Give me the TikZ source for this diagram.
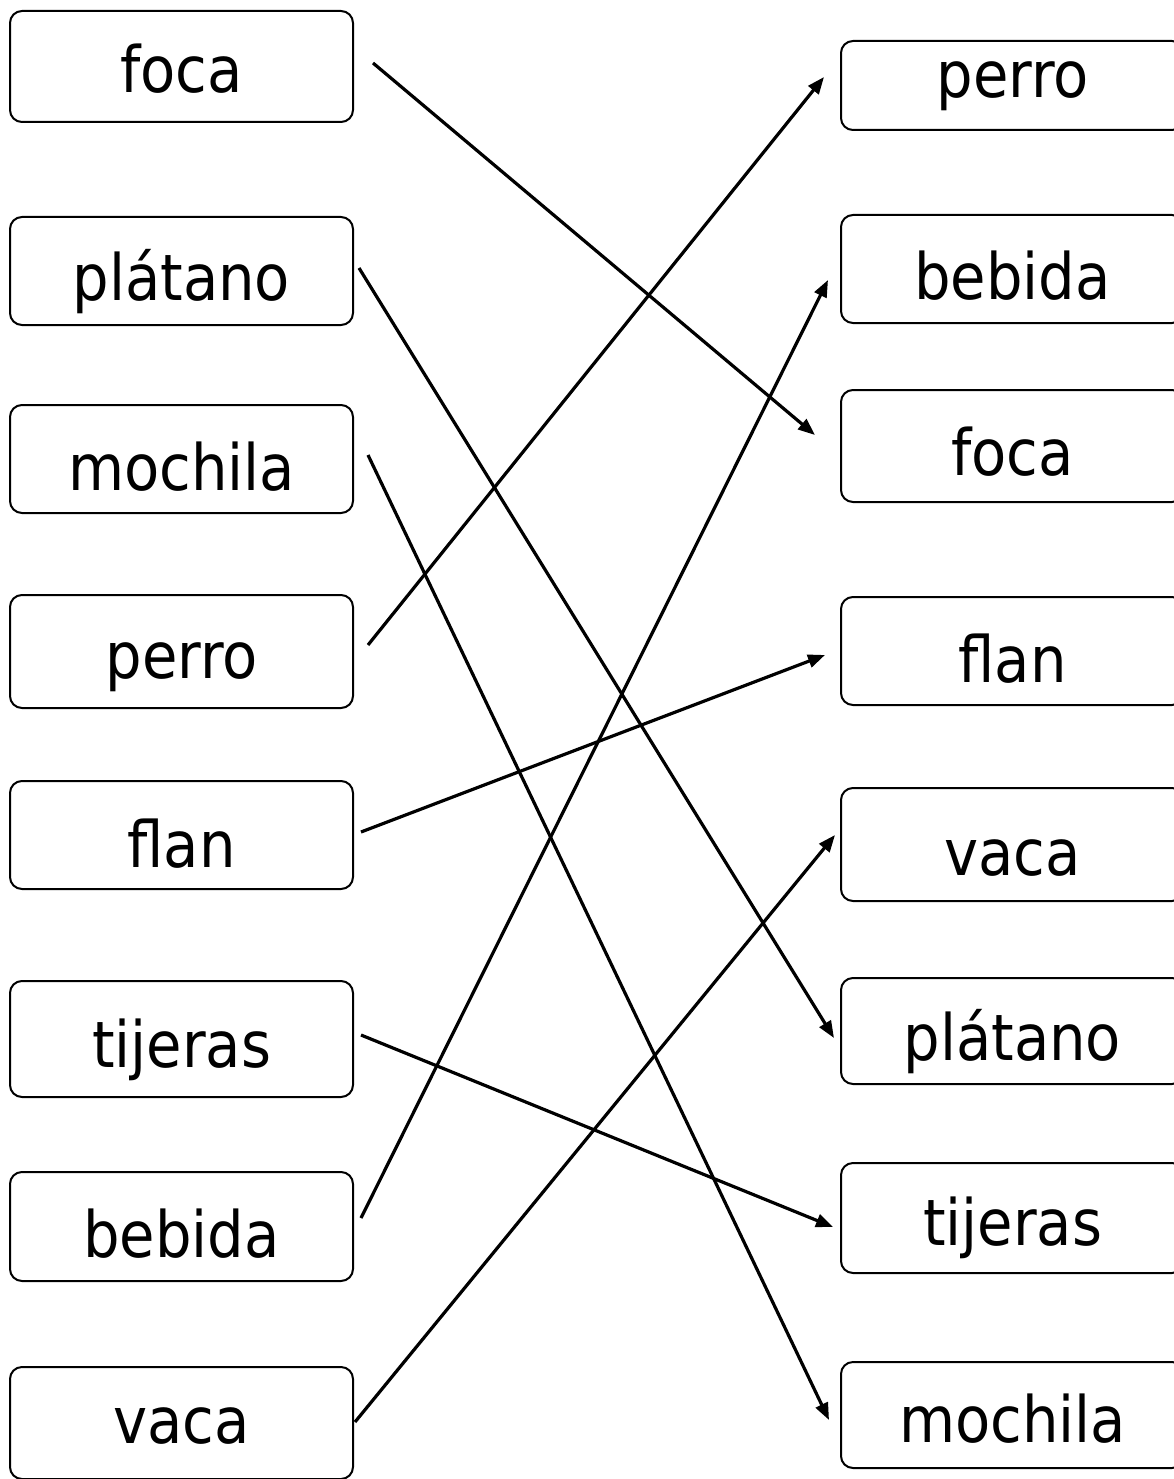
\documentclass[tikz,border=0pt]{standalone}
\usepackage{fontspec}
\setmainfont{DejaVu Sans Condensed}
\usetikzlibrary{arrows.meta,calc}
\tikzset{
  box/.style={draw=black, line width=2pt, rounded corners=12pt, minimum width=343pt, inner sep=0pt},
  word/.style={anchor=base, inner sep=0pt, font=\fontsize{64}{70}\selectfont},
  arr/.style={line width=3.2pt, -{Triangle[length=17pt,width=13pt]}}
}
\begin{document}
\begin{tikzpicture}[x=1pt,y=-1pt]
\useasboundingbox (0,0) rectangle (1174,1479);
% left column
\node[box, minimum height=111pt] (Lfoca) at (181.5,66.5) {};
\node[word] (tLfoca) at (181.5,93) {foca};
\node[box, minimum height=108pt] (Lplatano) at (181.5,271) {};
\node[word] (tLplatano) at (181.5,300) {plátano};
\node[box, minimum height=108pt] (Lmochila) at (181.5,459) {};
\node[word] (tLmochila) at (181.5,490) {mochila};
\node[box, minimum height=113pt] (Lperro) at (181.5,651.5) {};
\node[word] (tLperro) at (181.5,678) {perro};
\node[box, minimum height=108pt] (Lflan) at (181.5,835) {};
\node[word] (tLflan) at (181.5,867) {flan};
\node[box, minimum height=116pt] (Ltijeras) at (181.5,1039) {};
\node[word] (tLtijeras) at (181.5,1067) {tijeras};
\node[box, minimum height=109pt] (Lbebida) at (181.5,1226.5) {};
\node[word] (tLbebida) at (181.5,1257) {bebida};
\node[box, minimum height=112pt] (Lvaca) at (181.5,1423) {};
\node[word] (tLvaca) at (181.5,1443) {vaca};
% right column
\node[box, minimum height=89pt] (Rperro) at (1012.5,85.5) {};
\node[word] (tRperro) at (1012.5,98) {perro};
\node[box, minimum height=108pt] (Rbebida) at (1012.5,269) {};
\node[word] (tRbebida) at (1012.5,299) {bebida};
\node[box, minimum height=112pt] (Rfoca) at (1012.5,446) {};
\node[word] (tRfoca) at (1012.5,475) {foca};
\node[box, minimum height=108pt] (Rflan) at (1012.5,651) {};
\node[word] (tRflan) at (1012.5,682) {flan};
\node[box, minimum height=113pt] (Rvaca) at (1012.5,844.5) {};
\node[word] (tRvaca) at (1012.5,875) {vaca};
\node[box, minimum height=106pt] (Rplatano) at (1012.5,1031) {};
\node[word] (tRplatano) at (1012.5,1060) {plátano};
\node[box, minimum height=110pt] (Rtijeras) at (1012.5,1218) {};
\node[word] (tRtijeras) at (1012.5,1245) {tijeras};
\node[box, minimum height=106pt] (Rmochila) at (1012.5,1415) {};
\node[word] (tRmochila) at (1012.5,1442) {mochila};
% connectors
\draw[arr] ($(Lfoca.east)+(19,-3.5)$) -- ($(Rfoca.west)+(-25,-11)$);
\draw[arr] ($(Lplatano.east)+(5,-3)$) -- ($(Rplatano.west)+(-6,7)$);
\draw[arr] ($(Lmochila.east)+(14,-4)$) -- ($(Rmochila.west)+(-11,5)$);
\draw[arr] ($(Lperro.east)+(14,-6.5)$) -- ($(Rperro.west)+(-16,-8.5)$);
\draw[arr] ($(Lflan.east)+(7,-3)$) -- ($(Rflan.west)+(-15,4)$);
\draw[arr] ($(Ltijeras.east)+(7,-4)$) -- ($(Rtijeras.west)+(-7,9)$);
\draw[arr] ($(Lbebida.east)+(7,-8.5)$) -- ($(Rbebida.west)+(-12,11)$);
\draw[arr] ($(Lvaca.east)+(1,-1)$) -- ($(Rvaca.west)+(-5,-9.5)$);
\end{tikzpicture}
\end{document}
